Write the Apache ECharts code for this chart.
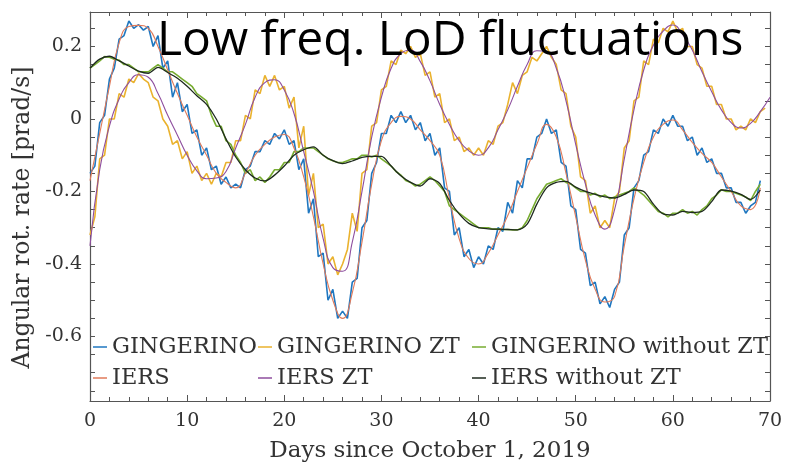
<!DOCTYPE html>
<html>
<head>
<meta charset="utf-8">
<script src="https://cdn.jsdelivr.net/npm/echarts@6/dist/echarts.min.js"></script>
<style>
  html, body { margin: 0; padding: 0; background: #fff; }
  #chart { width: 786px; height: 468px; }
</style>
</head>
<body>
<div id="chart"></div>
<script>
// GINGERINO series, sampled every half day
const gingerino = [
  -0.15, -0.13, -0.01, 0.01, 0.11, 0.14, 0.22, 0.23, 0.27, 0.25,
  0.26, 0.245, 0.255, 0.2, 0.23, 0.14, 0.16, 0.06, 0.1, 0.02,
  0.04, -0.04, -0.03, -0.1, -0.08, -0.14, -0.13, -0.18, -0.16, -0.19,
  -0.18, -0.19, -0.14, -0.13, -0.09, -0.09, -0.06, -0.07, -0.04, -0.055,
  -0.03, -0.07, -0.06, -0.14, -0.11, -0.26, -0.22, -0.38, -0.37, -0.5,
  -0.47, -0.55, -0.53, -0.55, -0.45, -0.44, -0.3, -0.28, -0.15, -0.12,
  -0.04, -0.04, 0.01, -0.01, 0.02, -0.01, 0.01, -0.03, -0.01, -0.06,
  -0.04, -0.1, -0.08, -0.19, -0.2, -0.32, -0.3, -0.38, -0.36, -0.41,
  -0.38, -0.4, -0.35, -0.36, -0.3, -0.31, -0.23, -0.26, -0.17, -0.19,
  -0.11, -0.11, -0.05, -0.04, 0.0, -0.04, -0.03, -0.12, -0.13, -0.24,
  -0.25, -0.36, -0.37, -0.46, -0.45, -0.51, -0.49, -0.52, -0.47, -0.45,
  -0.32, -0.3, -0.19, -0.17, -0.1, -0.09, -0.03, -0.04, 0.0, -0.02,
  0.01, -0.02, -0.02, -0.06, -0.05, -0.1, -0.08, -0.12, -0.11, -0.15,
  -0.15, -0.19, -0.19, -0.23, -0.23, -0.26, -0.24, -0.23, -0.17
];
const gingerinoZT = [
  -0.32, -0.27, -0.11, -0.1, 0.0, 0.0, 0.07, 0.06, 0.11, 0.1,
  0.125, 0.11, 0.1, 0.06, 0.05, 0.0, -0.02, -0.07, -0.06, -0.11,
  -0.09, -0.15, -0.13, -0.17, -0.15, -0.18, -0.15, -0.16, -0.12, -0.12,
  -0.06, -0.06, 0.01, 0.0, 0.08, 0.07, 0.12, 0.09, 0.12, 0.08,
  0.09, 0.03, 0.06, -0.08, -0.02, -0.21, -0.15, -0.3, -0.29, -0.4,
  -0.38, -0.43, -0.4, -0.36, -0.26, -0.31, -0.15, -0.14, -0.02, -0.01,
  0.08, 0.09, 0.16, 0.15, 0.19, 0.18, 0.2, 0.17, 0.18, 0.12,
  0.13, 0.06, 0.07, -0.01, 0.0, -0.06, -0.05, -0.09, -0.08, -0.1,
  -0.08, -0.1, -0.06, -0.07, -0.02, -0.01, 0.04, 0.1, 0.07, 0.12,
  0.13, 0.17, 0.16, 0.18, 0.2, 0.17, 0.15, 0.08, 0.07, -0.02,
  -0.05, -0.16, -0.17, -0.26, -0.24, -0.3, -0.28, -0.3, -0.22, -0.2,
  -0.08, -0.06, 0.05, 0.06, 0.16, 0.15, 0.22, 0.21, 0.25, 0.24,
  0.27, 0.24, 0.25, 0.2, 0.2, 0.15, 0.14, 0.09, 0.09, 0.04,
  0.04, 0.0, 0.0, -0.03, -0.02, -0.03, 0.0, -0.01, 0.02, 0.03
];
const gingerinoNoZT = [
  0.14, 0.15, 0.16, 0.172, 0.17, 0.165, 0.162, 0.15, 0.15, 0.14,
  0.13, 0.13, 0.13, 0.14, 0.15, 0.14, 0.13, 0.13, 0.12, 0.11,
  0.1, 0.09, 0.07, 0.06, 0.05, 0.01, -0.02, -0.02, -0.06, -0.07,
  -0.1, -0.12, -0.15, -0.14, -0.17, -0.16, -0.175, -0.16, -0.14, -0.14,
  -0.12, -0.12, -0.09, -0.09, -0.08, -0.08, -0.08, -0.09, -0.1, -0.11,
  -0.115, -0.12, -0.12, -0.115, -0.11, -0.11, -0.1, -0.1, -0.105, -0.1,
  -0.11, -0.12, -0.13, -0.145, -0.155, -0.17, -0.175, -0.185, -0.18, -0.17,
  -0.16, -0.17, -0.185, -0.2, -0.24, -0.25, -0.26, -0.27, -0.28, -0.29,
  -0.3, -0.3, -0.3, -0.304, -0.304, -0.305, -0.305, -0.306, -0.306, -0.3,
  -0.28, -0.25, -0.22, -0.2, -0.18, -0.175, -0.17, -0.165, -0.175, -0.18,
  -0.19, -0.2, -0.2, -0.21, -0.205, -0.215, -0.21, -0.22, -0.215, -0.21,
  -0.205, -0.2, -0.19, -0.2, -0.21, -0.225, -0.24, -0.255, -0.26, -0.27,
  -0.26, -0.26, -0.25, -0.26, -0.255, -0.265, -0.25, -0.24, -0.22, -0.21,
  -0.195, -0.2, -0.2, -0.205, -0.21, -0.215, -0.225, -0.2, -0.18
];

// IERS series, one value per day
const iers = [
  -0.17, -0.04, 0.09, 0.21, 0.255, 0.258, 0.25, 0.2, 0.135, 0.07,
  0.01, -0.05, -0.1, -0.15, -0.175, -0.19, -0.15, -0.1, -0.07, -0.05,
  -0.043, -0.08, -0.16, -0.27, -0.4, -0.5, -0.55, -0.48, -0.34, -0.18,
  -0.06, -0.01, 0.007, 0.0, -0.03, -0.06, -0.1, -0.22, -0.33, -0.385,
  -0.4, -0.37, -0.32, -0.267, -0.2, -0.135, -0.07, -0.015, -0.05, -0.15,
  -0.27, -0.39, -0.47, -0.505, -0.49, -0.35, -0.22, -0.12, -0.05, -0.015,
  -0.003, -0.03, -0.065, -0.095, -0.12, -0.16, -0.2, -0.24, -0.25, -0.19
];
const iersZT = [
  -0.35, -0.14, -0.02, 0.055, 0.1, 0.122, 0.115, 0.07, 0.01, -0.045,
  -0.1, -0.143, -0.165, -0.163, -0.145, -0.08, -0.015, 0.06, 0.1, 0.108,
  0.08, 0.015, -0.09, -0.2, -0.33, -0.41, -0.42, -0.34, -0.2, -0.05,
  0.06, 0.14, 0.18, 0.19, 0.158, 0.105, 0.04, -0.015, -0.06, -0.088,
  -0.1, -0.08, -0.03, 0.025, 0.09, 0.15, 0.188, 0.185, 0.14, 0.05,
  -0.07, -0.18, -0.265, -0.304, -0.25, -0.11, 0.026, 0.135, 0.203, 0.242,
  0.259, 0.233, 0.19, 0.13, 0.075, 0.025, -0.01, -0.025, -0.012, 0.02,
  0.06
];
const iersNoZT = [
  0.14, 0.165, 0.173, 0.16, 0.146, 0.132, 0.126, 0.142, 0.128, 0.112,
  0.09, 0.064, 0.04, 0.0, -0.055, -0.105, -0.14, -0.163, -0.171, -0.155,
  -0.13, -0.1, -0.085, -0.077, -0.1, -0.115, -0.123, -0.116, -0.106, -0.103,
  -0.103, -0.13, -0.157, -0.175, -0.185, -0.165, -0.178, -0.225, -0.262, -0.288,
  -0.3, -0.303, -0.304, -0.305, -0.306, -0.29, -0.235, -0.19, -0.175, -0.172,
  -0.188, -0.2, -0.208, -0.215, -0.218, -0.208, -0.196, -0.2, -0.235, -0.262,
  -0.265, -0.255, -0.258, -0.255, -0.228, -0.196, -0.199, -0.208, -0.222, -0.196
];

const yLabelTicks = [-0.6, -0.4, -0.2, 0, 0.2];
const yTicks = [-0.75, -0.7, -0.65, -0.6, -0.55, -0.5, -0.45, -0.4, -0.35, -0.3, -0.25,
  -0.2, -0.15, -0.1, -0.05, 0, 0.05, 0.1, 0.15, 0.2, 0.25];

const names = ['GINGERINO', 'GINGERINO ZT', 'GINGERINO without ZT',
  'IERS', 'IERS ZT', 'IERS without ZT'];
const colors = ['#1f77c0', '#eab22e', '#77ac30', '#e07a5a', '#8e4e9e', '#1e2a1e'];

function halfDay(arr) { return arr.map((v, i) => [i * 0.5, v]); }
function wholeDay(arr) { return arr.map((v, i) => [i, v]); }

const serif = 'DejaVu Serif';
const axisCol = '#555';

const chart = echarts.init(document.getElementById('chart'));
const option = {
  animation: false,
  backgroundColor: '#fff',
  title: {
    text: 'Low freq. LoD fluctuations',
    left: 157, top: 17, padding: 0,
    textStyle: { fontFamily: 'Open Sans', fontSize: 48, fontWeight: 'normal', color: '#000' },
    z: 20
  },
  grid: { left: 90, right: 16, top: 12, bottom: 65 },
  legend: [
    { data: ['GINGERINO', 'IERS'], left: 93 },
    { data: ['GINGERINO ZT', 'IERS ZT'], left: 258 },
    { data: ['GINGERINO without ZT', 'IERS without ZT'], left: 472 }
  ].map(l => Object.assign(l, {
    top: 335, orient: 'vertical', icon: 'rect', itemWidth: 14, itemHeight: 1.5,
    itemGap: 7, padding: 0,
    textStyle: { fontFamily: serif, fontSize: 22.5, color: '#333', lineHeight: 24 }
  })),
  xAxis: [
    {
      type: 'value', min: 0, max: 70, interval: 10, position: 'bottom',
      name: 'Days since October 1, 2019', nameLocation: 'middle', nameGap: 39,
      nameTextStyle: { fontFamily: serif, fontSize: 23, color: '#333' },
      axisLine: { show: true, onZero: false, lineStyle: { color: axisCol, width: 1.2 } },
      axisTick: { inside: true, length: 6, lineStyle: { color: axisCol } },
      minorTick: { show: true, splitNumber: 5, length: 4, lineStyle: { color: axisCol } },
      axisLabel: { fontFamily: serif, fontSize: 19, color: '#333', margin: 11 },
      splitLine: { show: false }
    },
    {
      type: 'value', min: 0, max: 70, interval: 10, position: 'top',
      axisLine: { show: true, onZero: false, lineStyle: { color: axisCol, width: 1.2 } },
      axisTick: { inside: true, length: 6, lineStyle: { color: axisCol } },
      minorTick: { show: true, splitNumber: 5, length: 4, lineStyle: { color: axisCol } },
      axisLabel: { show: false },
      splitLine: { show: false }
    }
  ],
  yAxis: [
    {
      type: 'value', min: -0.778, max: 0.295, position: 'left',
      name: 'Angular rot. rate [prad/s]', nameLocation: 'middle', nameGap: 50,
      nameTextStyle: { fontFamily: serif, fontSize: 23.5, color: '#333', padding: [0, 22, 0, 0] },
      axisLine: { show: true, onZero: false, lineStyle: { color: axisCol, width: 1.2 } },
      axisTick: { inside: true, length: 5, customValues: yTicks, lineStyle: { color: axisCol } },
      axisLabel: { fontFamily: serif, fontSize: 19, color: '#333', margin: 8, customValues: yLabelTicks },
      splitLine: { show: false }
    },
    {
      type: 'value', min: -0.778, max: 0.295, position: 'right',
      axisLine: { show: true, onZero: false, lineStyle: { color: axisCol, width: 1.2 } },
      axisTick: { inside: true, length: 5, customValues: yTicks, lineStyle: { color: axisCol } },
      axisLabel: { show: false },
      splitLine: { show: false }
    }
  ],
  series: [
    { name: names[0], data: halfDay(gingerino), width: 1.6 },
    { name: names[1], data: halfDay(gingerinoZT), width: 1.6 },
    { name: names[2], data: halfDay(gingerinoNoZT), width: 1.6 },
    { name: names[3], data: wholeDay(iers), width: 1.1, smooth: true },
    { name: names[4], data: wholeDay(iersZT), width: 1.1, smooth: true },
    { name: names[5], data: wholeDay(iersNoZT), width: 1.3, smooth: 0.3 }
  ].map((s, i) => ({
    name: s.name, type: 'line', data: s.data, smooth: s.smooth || false,
    showSymbol: false, symbol: 'none', color: colors[i],
    lineStyle: { width: s.width, color: colors[i] }, z: 2 + i
  }))
};
chart.setOption(option);
</script>
</body>
</html>
